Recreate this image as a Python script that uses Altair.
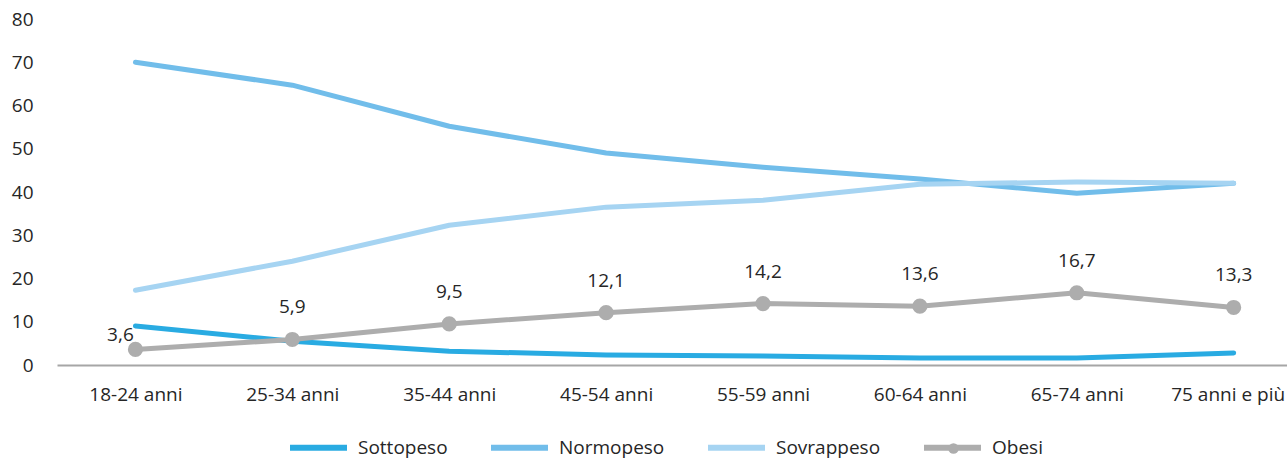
import altair as alt
import pandas as pd

categories = ["18-24 anni", "25-34 anni", "35-44 anni", "45-54 anni",
              "55-59 anni", "60-64 anni", "65-74 anni", "75 anni e più"]
series_names = ["Sottopeso", "Normopeso", "Sovrappeso", "Obesi"]
sottopeso = [9.0, 5.5, 3.2, 2.3, 2.1, 1.6, 1.6, 2.8]
normopeso = [70.0, 64.7, 55.2, 49.0, 45.7, 43.0, 39.7, 42.0]
sovrappeso = [17.3, 24.0, 32.3, 36.5, 38.1, 41.8, 42.3, 42.0]
obesi = [3.6, 5.9, 9.5, 12.1, 14.2, 13.6, 16.7, 13.3]
colors = ["#29abe2", "#71bdea", "#a6d4f2", "#adadad"]

rows = []
for name, vals in zip(series_names, [sottopeso, normopeso, sovrappeso, obesi]):
    for i, (cat, v) in enumerate(zip(categories, vals)):
        rows.append({"serie": name, "idx": i, "eta": cat, "valore": v,
                     "etichetta": f"{v:.1f}".replace(".", ",")})
df = pd.DataFrame(rows)

font = "Open Sans"
ink = "#262626"
fs = 19
last = len(categories) - 1
label_expr = "[" + ",".join(f"'{c}'" for c in categories) + "][datum.value]"

x = alt.X("idx:Q", scale=alt.Scale(domain=[-0.5, 7.34], nice=False, zero=False),
          axis=alt.Axis(title=None, values=list(range(len(categories))), labelExpr=label_expr,
                        grid=False, ticks=False, domainColor="#a6a6a6", domainWidth=2,
                        labelFontSize=fs, labelColor=ink, labelFont=font,
                        labelPadding=20, labelFlush=False,
                        labelOffset={"condition": {"test": f"datum.value == {last}", "value": -6},
                                     "value": 0}))
y = alt.Y("valore:Q", scale=alt.Scale(domain=[0, 80], nice=False),
          axis=alt.Axis(title=None, values=list(range(0, 81, 10)), grid=False, ticks=False,
                        domain=False, labelFontSize=fs, labelColor=ink, labelFont=font,
                        labelPadding=24))
color = alt.Color("serie:N", scale=alt.Scale(domain=series_names, range=colors),
                  legend=alt.Legend(title=None, orient="none", direction="horizontal",
                                    legendX=230, legendY=397, symbolType="stroke",
                                    symbolSize=3249, symbolStrokeWidth=6,
                                    labelFontSize=fs, labelFont=font, labelColor=ink,
                                    columnPadding=31, labelOffset=8))

lines = alt.Chart(df).mark_line(strokeWidth=5, strokeCap="round", strokeJoin="round").encode(
    x=x, y=y, color=color, order="idx:Q")

ob = df[df["serie"] == "Obesi"]
# the dot marker shown on the "Obesi" legend swatch (label left empty)
marker = alt.Shape("serie:N", scale=alt.Scale(domain=["Obesi"], range=["circle"]),
                   legend=alt.Legend(title=None, orient="none", legendX=887, legendY=420,
                                     symbolFillColor="#adadad", symbolStrokeWidth=0,
                                     symbolSize=110, labelExpr="''", labelFontSize=fs,
                                     labelFont=font, symbolOpacity=1))
points = alt.Chart(ob).mark_point(size=230, opacity=1, filled=True, color="#adadad").encode(
    x=x, y=y, shape=marker)
labels = alt.Chart(ob[ob["idx"] > 0]).mark_text(dy=-32, fontSize=fs, font=font, color=ink).encode(
    x=x, y=y, text="etichetta:N")
first_label = alt.Chart(ob[ob["idx"] == 0]).mark_text(dx=-15, dy=-14, fontSize=fs, font=font,
                                                      color=ink).encode(x=x, y=y, text="etichetta:N")

chart = alt.layer(lines, points, labels, first_label).properties(
    width=1230, height=346,
    autosize=alt.AutoSizeParams(type="none"),
    padding={"left": 57, "top": 19, "right": 0, "bottom": 94},
).configure_view(stroke=None)

chart.save("out.html", embed_options={"renderer": "svg", "actions": False})
